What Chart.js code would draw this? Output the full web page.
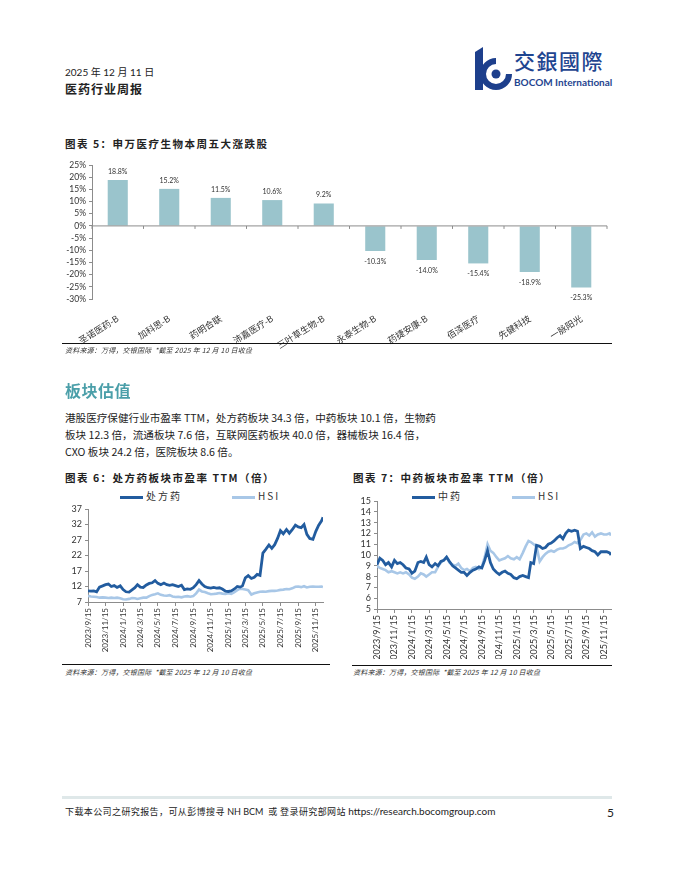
<!DOCTYPE html>
<html>
<head>
<meta charset="utf-8">
<script src="https://cdn.jsdelivr.net/npm/chart.js@4/dist/chart.umd.min.js"></script>
<style>
  body { margin: 0; background: #fff; }
  #page { position: relative; width: 680px; height: 880px; overflow: hidden; font-family: Lato, "Noto Sans CJK SC", sans-serif; color: #222; }
  .t { position: absolute; white-space: nowrap; }
  .cjk { font-family: "Noto Sans CJK SC", sans-serif; }
  .ttl { font-family: "Noto Sans CJK SC", sans-serif; font-weight: 700; font-size: 10.5px; letter-spacing: 1.5px; }
  .src { font-family: "Noto Sans CJK SC", sans-serif; font-style: italic; font-size: 7px; letter-spacing: 0.2px; color: #333; }
  .rule { position: absolute; height: 1.3px; background: #111; }
  .box { position: absolute; }
  .lg { position: absolute; top: 488px; font-size: 10px; color: #333; font-family: "Noto Sans CJK SC", sans-serif; letter-spacing: 2px; }
  .lg span.item { display: inline-block; }
  .lg span.swatch { display: inline-block; width: 23px; height: 3px; vertical-align: middle; margin-right: 3px; }
</style>
</head>
<body>
<div id="page">
  <div class="t" style="left:65px;top:64px;font-size:10px;">2025 年 12 月 11 日</div>
  <div class="t cjk" style="left:65px;top:80px;font-size:12px;font-weight:700;letter-spacing:1px;">医药行业周报</div>

  <svg class="box" style="left:472px;top:46px;" width="42" height="46" viewBox="0 0 42 46">
    <path d="M3 6 L11 1 L11 44 L3 44 Z" fill="#1d3f8c"/>
    <path d="M24 15 A13 13 0 1 0 37 28" fill="none" stroke="#1d3f8c" stroke-width="6"/>
    <circle cx="24" cy="28" r="4.5" fill="#1d3f8c"/>
  </svg>
  <div class="t cjk" style="left:514px;top:45px;font-size:21px;font-weight:500;color:#1f4590;letter-spacing:1.5px;">交銀國際</div>
  <div class="t" style="left:514px;top:76px;font-size:10px;font-weight:700;color:#1f4590;">BOCOM International</div>

  <div class="t ttl" style="left:65px;top:136px;">图表 5：申万医疗生物本周五大涨跌股</div>
  <div class="box" style="left:60px;top:150px;width:556px;height:200px;"><canvas id="c5"></canvas></div>
  <div class="rule" style="left:62px;top:343px;width:550px;"></div>
  <div class="t src" style="left:65px;top:345px;">资料来源：万得，交银国际&nbsp;&nbsp;*截至 2025 年 12 月 10 日收盘</div>

  <div class="t cjk" style="left:65px;top:378px;font-size:16px;font-weight:700;color:#4b9fa9;letter-spacing:0.5px;">板块估值</div>
  <div class="t cjk" style="left:65px;top:409px;font-size:10.6px;line-height:17px;color:#222;">
    港股医疗保健行业市盈率 TTM，处方药板块 34.3 倍，中药板块 10.1 倍，生物药<br>
    板块 12.3 倍，流通板块 7.6 倍，互联网医药板块 40.0 倍，器械板块 16.4 倍，<br>
    CXO 板块 24.2 倍，医院板块 8.6 倍。
  </div>

  <div class="t ttl" style="left:65px;top:470px;">图表 6：处方药板块市盈率 TTM（倍）</div>
  <div class="lg" id="lg6" style="left:120px;"></div>
  <div class="box" style="left:60px;top:500px;width:270px;height:152px;"><canvas id="c6"></canvas></div>
  <div class="rule" style="left:62px;top:664px;width:268px;"></div>
  <div class="t src" style="left:65px;top:667px;">资料来源：万得，交银国际&nbsp;&nbsp;*截至 2025 年 12 月 10 日收盘</div>

  <div class="t ttl" style="left:353px;top:470px;">图表 7：中药板块市盈率 TTM（倍）</div>
  <div class="lg" id="lg7" style="left:412px;"></div>
  <div class="box" style="left:350px;top:492px;width:268px;height:167px;"><canvas id="c7"></canvas></div>
  <div class="rule" style="left:352px;top:665px;width:260px;"></div>
  <div class="t src" style="left:353px;top:667px;">资料来源：万得，交银国际&nbsp;&nbsp;*截至 2025 年 12 月 10 日收盘</div>

  <div class="box" style="left:62px;top:796px;width:550px;height:3px;background:#dfe8e9;"></div>
  <div class="t cjk" style="left:65px;top:805px;font-size:9px;letter-spacing:0.4px;color:#222;">下载本公司之研究报告，可从彭博搜寻 <span style="font-family:Lato;letter-spacing:0;">NH BCM</span>&nbsp; 或 登录研究部网站 <span style="font-family:Lato;font-size:10px;letter-spacing:0;">https://research.bocomgroup.com</span></div>
  <div class="t" style="left:607px;top:805px;font-size:12px;">5</div>
</div>

<script>
// 图表5 本周五大涨跌股
var stocks = ['圣诺医药-B', '加科思-B', '药明合联', '沛嘉医疗-B', '三叶草生物-B', '永泰生物-B', '药捷安康-B', '佰泽医疗', '先健科技', '一脉阳光'];
var weekChg = [18.8, 15.2, 11.5, 10.6, 9.2, -10.3, -14.0, -15.4, -18.9, -25.3];

// 图表6/7 市盈率TTM, 每旬一个点
var dates = [
  '2023/9/15','2023/9/25','2023/10/5','2023/10/15','2023/10/25','2023/11/5','2023/11/15','2023/11/25','2023/12/5','2023/12/15','2023/12/25',
  '2024/1/5','2024/1/15','2024/1/25','2024/2/5','2024/2/15','2024/2/25','2024/3/5','2024/3/15','2024/3/25','2024/4/5','2024/4/15','2024/4/25',
  '2024/5/5','2024/5/15','2024/5/25','2024/6/5','2024/6/15','2024/6/25','2024/7/5','2024/7/15','2024/7/25','2024/8/5','2024/8/15','2024/8/25',
  '2024/9/5','2024/9/15','2024/9/25','2024/10/5','2024/10/15','2024/10/25','2024/11/5','2024/11/15','2024/11/25','2024/12/5','2024/12/15','2024/12/25',
  '2025/1/5','2025/1/15','2025/1/25','2025/2/5','2025/2/15','2025/2/25','2025/3/5','2025/3/15','2025/3/25','2025/4/5','2025/4/15','2025/4/25',
  '2025/5/5','2025/5/15','2025/5/25','2025/6/5','2025/6/15','2025/6/25','2025/7/5','2025/7/15','2025/7/25','2025/8/5','2025/8/15','2025/8/25',
  '2025/9/5','2025/9/15','2025/9/25','2025/10/5','2025/10/15','2025/10/25','2025/11/5','2025/11/15','2025/11/25','2025/12/5','2025/12/10'
];
var rxPE = [
  10.6, 10.5, 10.6, 10.3, 11.8, 12.2, 12.6, 12.8, 12.0, 12.3, 11.7,
  12.2, 11.0, 10.3, 10.2, 10.9, 11.6, 12.6, 11.8, 11.7, 12.5, 13.0, 13.2,
  13.9, 13.0, 12.6, 13.1, 12.6, 12.4, 12.6, 12.3, 12.0, 12.4, 11.0, 11.2,
  11.1, 11.6, 12.6, 13.9, 12.8, 12.0, 11.6, 11.5, 11.7, 11.5, 11.6, 11.2,
  10.5, 10.4, 10.6, 11.2, 12.0, 11.8, 12.2, 14.8, 15.5, 14.6, 15.0, 15.9,
  15.6, 22.8, 24.0, 25.4, 24.3, 25.5, 27.5, 30.0, 29.0, 30.4, 29.2, 30.3,
  31.8, 31.2, 31.0, 32.0, 28.8, 27.5, 27.2, 29.8, 31.8, 33.2, 34.3
];
var tcmPE = [
  9.1, 9.7, 9.5, 9.1, 9.3, 8.9, 9.5, 9.2, 9.3, 9.1, 8.8,
  8.7, 8.3, 8.5, 9.3, 9.4, 9.3, 9.8, 9.1, 8.9, 9.2, 9.0, 9.4,
  9.5, 9.8, 9.4, 9.0, 8.8, 8.6, 8.4, 8.4, 8.1, 8.4, 8.6, 8.7,
  8.9, 8.8, 9.5, 10.4, 9.3, 8.7, 8.4, 8.2, 8.4, 8.5, 8.3, 8.2,
  7.9, 7.8, 8.0, 8.1, 8.0, 7.9, 9.3, 9.2, 10.9, 10.8, 10.6, 10.7,
  11.0, 11.1, 11.3, 11.6, 11.8, 11.5, 12.0, 12.3, 12.2, 12.3, 12.2, 10.6,
  10.8, 10.7, 10.6, 10.4, 10.3, 10.0, 10.3, 10.3, 10.3, 10.2, 10.0
];
var hsiPE = [
  9.0, 8.8, 8.7, 8.6, 8.4, 8.5, 8.4, 8.3, 8.4, 8.3, 8.4,
  8.2, 7.9, 7.8, 8.0, 8.3, 8.2, 8.0, 8.2, 8.4, 8.4, 8.9, 9.3,
  9.5, 9.8, 9.3, 9.1, 9.0, 9.2, 8.8, 8.6, 8.7, 8.5, 8.8, 8.9,
  8.7, 8.9, 9.8, 11.0, 10.4, 10.2, 9.8, 9.5, 9.6, 9.7, 9.9, 9.7,
  9.6, 9.8, 9.6, 10.2, 10.8, 11.3, 11.2, 11.0, 10.8, 9.4, 9.8, 10.1,
  10.3, 10.4, 10.3, 10.5, 10.6, 10.6, 10.7, 10.9, 11.0, 11.2, 11.1, 11.4,
  11.9, 12.0, 11.8, 12.1, 11.7, 11.9, 12.0, 11.9, 11.9, 12.0, 11.8
];
var xTicks = ['2023/9/15','2023/11/15','2024/1/15','2024/3/15','2024/5/15','2024/7/15','2024/9/15',
              '2024/11/15','2025/1/15','2025/3/15','2025/5/15','2025/7/15','2025/9/15','2025/11/15'];

var DARK = '#225c9f', LIGHT = '#a8c7e7', BAR = '#9ac4cc', AX = '#8c8c8c';
Chart.defaults.font.family = 'Lato, "Noto Sans CJK SC", sans-serif';
Chart.defaults.color = '#333';

var t0 = Date.UTC(2023, 8, 15);
function day(s) {
  var p = s.split('/').map(Number);
  return (Date.UTC(p[0], p[1] - 1, p[2]) - t0) / 864e5;
}

// 零轴 + 分类刻度
var zeroLine = {
  id: 'zeroLine',
  afterDatasetsDraw: function (chart) {
    var ctx = chart.ctx, x = chart.scales.x, y = chart.scales.y;
    var y0 = y.getPixelForValue(0);
    ctx.save();
    ctx.strokeStyle = AX;
    ctx.lineWidth = 1;
    ctx.beginPath();
    ctx.moveTo(x.left, y0);
    ctx.lineTo(x.right, y0);
    for (var i = 0; i <= stocks.length; i++) {
      var px = x.getPixelForValue(i - 0.5);
      ctx.moveTo(px, y0);
      ctx.lineTo(px, y0 + 3);
    }
    ctx.stroke();
    ctx.restore();
  }
};
var barLabels = {
  id: 'barLabels',
  afterDatasetsDraw: function (chart) {
    var ctx = chart.ctx;
    ctx.save();
    ctx.font = '7px Lato';
    ctx.fillStyle = '#333';
    ctx.textAlign = 'center';
    chart.getDatasetMeta(0).data.forEach(function (bar, i) {
      var v = weekChg[i];
      if (v >= 0) { ctx.textBaseline = 'bottom'; ctx.fillText(v.toFixed(1) + '%', bar.x, bar.y - 5); }
      else { ctx.textBaseline = 'top'; ctx.fillText(v.toFixed(1) + '%', bar.x, bar.y + 7); }
    });
    ctx.restore();
  }
};

new Chart(document.getElementById('c5'), {
  type: 'bar',
  data: { labels: stocks, datasets: [{ data: weekChg, backgroundColor: BAR, categoryPercentage: 1, barPercentage: 0.39 }] },
  options: {
    responsive: true, maintainAspectRatio: false, animation: false,
    layout: { padding: { top: 15, right: 9 } },
    plugins: { legend: { display: false }, tooltip: { enabled: false } },
    scales: {
      x: {
        grid: { display: false }, border: { display: false },
        ticks: { minRotation: 32, maxRotation: 32, autoSkip: false, padding: 6, font: { size: 9, family: '"Noto Sans CJK SC"' } },
        afterFit: function (s) { s.height = 51; }
      },
      y: {
        min: -30, max: 25,
        ticks: { stepSize: 5, autoSkip: false, padding: 3, font: { size: 8.5 }, callback: function (v) { return v + '%'; } },
        grid: { drawOnChartArea: false, tickLength: 3, color: AX }, border: { color: AX },
        afterFit: function (s) { s.width = 32; }
      }
    }
  },
  plugins: [zeroLine, barLabels]
});

function peChart(id, lgId, name, vals, yMin, yMax, step, yW, fs, itemW) {
  var chart = new Chart(document.getElementById(id), {
    type: 'line',
    data: {
      datasets: [
        { label: name, data: dates.map(function (d, i) { return { x: day(d), y: vals[i] }; }), borderColor: DARK, borderWidth: 2.8, pointRadius: 0, tension: 0 },
        { label: 'HSI', data: dates.map(function (d, i) { return { x: day(d), y: hsiPE[i] }; }), borderColor: LIGHT, borderWidth: 2.6, pointRadius: 0, tension: 0 }
      ]
    },
    options: {
      responsive: true, maintainAspectRatio: false, animation: false,
      layout: { padding: { top: 9, right: 7 } },
      plugins: { legend: { display: false }, tooltip: { enabled: false } },
      scales: {
        x: {
          type: 'linear', min: 0, max: day(dates[dates.length - 1]),
          afterBuildTicks: function (s) { s.ticks = xTicks.map(function (l) { return { value: day(l) }; }); },
          ticks: { autoSkip: false, minRotation: 90, maxRotation: 90, padding: 2, font: { size: fs },
                   callback: function (v, i) { return xTicks[i]; } },
          grid: { drawOnChartArea: false, tickLength: 4, color: AX }, border: { color: AX },
          afterFit: function (s) { s.height = 50; }
        },
        y: {
          min: yMin, max: yMax,
          ticks: { stepSize: step, autoSkip: false, padding: 3, font: { size: 9 } },
          grid: { drawOnChartArea: false, tickLength: 3, color: AX }, border: { color: AX },
          afterFit: function (s) { s.width = yW; }
        }
      }
    }
  });
  // html图例
  var lg = document.getElementById(lgId);
  chart.data.datasets.forEach(function (ds) {
    var it = document.createElement('span');
    it.className = 'item';
    it.style.width = itemW + 'px';
    it.innerHTML = '<span class="swatch" style="background:' + ds.borderColor + '"></span>' + ds.label;
    lg.appendChild(it);
  });
}

peChart('c6', 'lg6', '处方药', rxPE, 7, 37, 5, 28, 8, 112);
peChart('c7', 'lg7', '中药', tcmPE, 5, 15, 1, 27, 9, 100);
</script>
</body>
</html>
